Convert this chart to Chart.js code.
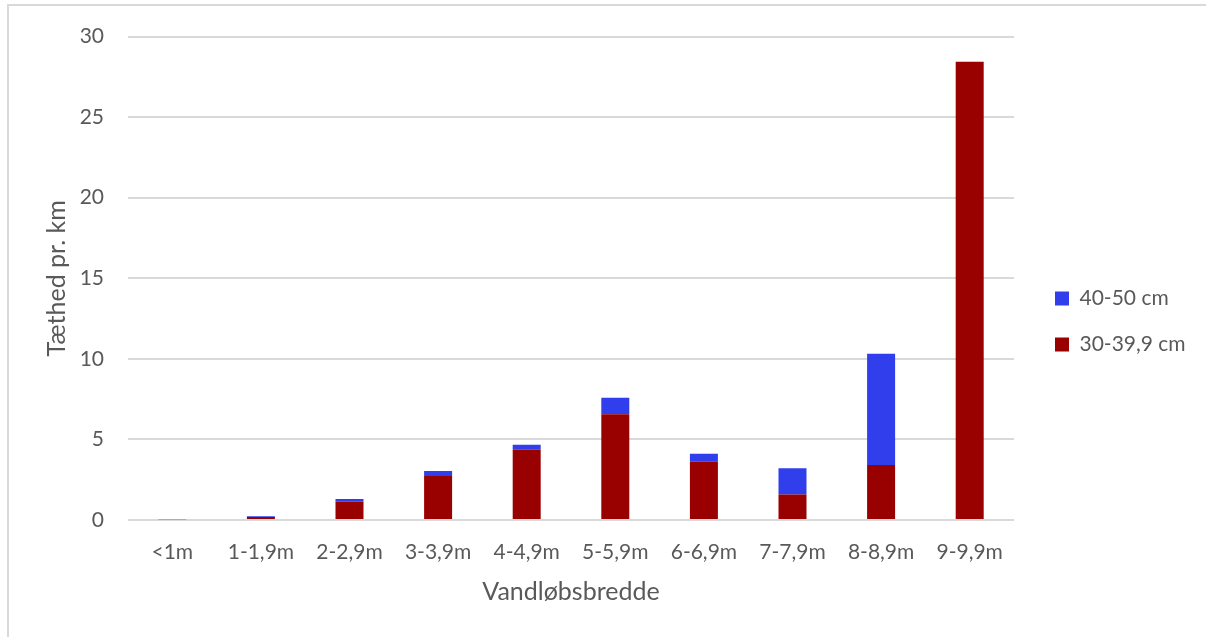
<html>
<head>
<meta charset="utf-8">
<script src="https://cdn.jsdelivr.net/npm/chart.js@4.4.1/dist/chart.umd.min.js"></script>
<style>
body { margin:0; background:#fff; }
#frame { position:absolute; left:7px; top:4px; width:1220px; height:660px; border-left:2px solid #d9d9d9; border-top:2px solid #d9d9d9; }
#wrap { position:absolute; left:0; top:0; width:1206px; height:637px; }
</style>
</head>
<body>
<div id="frame"></div>
<div id="wrap"><canvas id="chart" width="1206" height="637"></canvas></div>
<script>
// categories (stream width)
var widths = ["<1m","1-1,9m","2-2,9m","3-3,9m","4-4,9m","5-5,9m","6-6,9m","7-7,9m","8-8,9m","9-9,9m"];
// density per km, 30-39,9 cm
var small = [0.05, 0.18, 1.15, 2.73, 4.36, 6.56, 3.62, 1.59, 3.41, 28.44];
// density per km, 40-50 cm
var large = [0, 0.05, 0.15, 0.31, 0.31, 1.03, 0.49, 1.62, 6.9, 0];
var yTicks = [0, 5, 10, 15, 20, 25, 30];

var txt = "#595959";
var fnt = "Lato, 'Open Sans', sans-serif";

// keep the legend to the right of the plot, with its items where the original has them
var legendFix = {
  id: "legendFix",
  beforeLayout: function (chart) {
    var lg = chart.legend;
    if (lg && !lg._fixed) {
      var f = lg.fit;
      lg.fit = function () { f.call(this); this.width = 192; };
      lg._fixed = true;
    }
  },
  afterLayout: function (chart) {
    var lg = chart.legend;
    var dx = 1030 - lg.left;
    lg.left += dx; lg.right += dx;
    lg.top -= 14; lg.bottom -= 14;
  }
};

new Chart(document.getElementById("chart"), {
  type: "bar",
  data: {
    labels: widths,
    datasets: [
      { label: "30-39,9 cm", data: small, backgroundColor: "#990000", barPercentage: 0.316, categoryPercentage: 1 },
      { label: "40-50 cm", data: large, backgroundColor: "#303eeb", barPercentage: 0.316, categoryPercentage: 1 }
    ]
  },
  plugins: [legendFix],
  options: {
    responsive: false,
    animation: false,
    layout: { padding: { left: 10, top: 34, right: 0, bottom: 0 } },
    plugins: {
      tooltip: { enabled: false },
      legend: {
        position: "right",
        reverse: true,
        labels: { color: txt, font: { family: fnt, size: 21 }, boxWidth: 14, boxHeight: 14, padding: 25 }
      }
    },
    scales: {
      x: {
        stacked: true,
        afterFit: function (s) { s.height = 117; },
        grid: { display: false, drawTicks: false },
        border: { display: false },
        ticks: { color: txt, font: { family: fnt, size: 21 }, padding: 20, maxRotation: 0, autoSkip: false },
        title: { display: true, text: "Vandløbsbredde", color: txt, font: { family: fnt, size: 25 }, padding: { top: 0, bottom: 30 } }
      },
      y: {
        stacked: true,
        min: 0, max: 30,
        afterFit: function (s) { s.width = 118; },
        afterBuildTicks: function (s) { s.ticks = yTicks.map(function (v) { return { value: v }; }); },
        grid: { color: "#d9d9d9", lineWidth: 2, drawTicks: false },
        border: { display: false },
        ticks: { color: txt, font: { family: fnt, size: 21 }, padding: 24 },
        title: { display: true, text: "Tæthed pr. km", color: txt, font: { family: fnt, size: 25 }, padding: { top: 32, bottom: 0 } }
      }
    }
  }
});
</script>
</body>
</html>
